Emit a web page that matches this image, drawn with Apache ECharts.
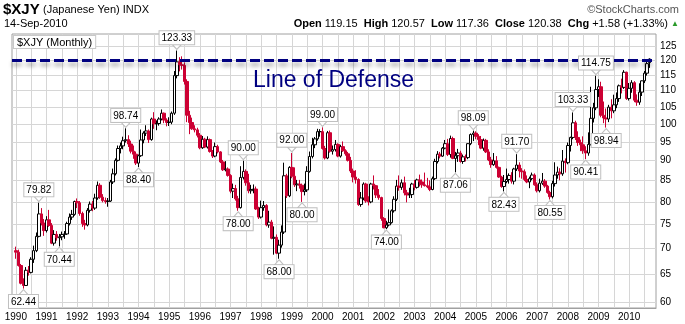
<!DOCTYPE html>
<html><head><meta charset="utf-8">
<script src="https://cdn.jsdelivr.net/npm/echarts@6/dist/echarts.min.js"></script>
<style>html,body{margin:0;padding:0;background:#fff}#c{width:685px;height:324px}</style>
</head><body><div id="c"></div><script>
// Monthly $XJY candles, Jan 1990 .. Sep 2010
const firstYear = 1990, lastYear = 2010, lastMonth = 9;
const opens = [
69.6,69.3,66.7,63.4,63.0,65.8,65.4,67.9,69.6,72.5,77.3,75.3,
73.7,76.0,74.8,71.1,72.9,72.2,72.4,72.9,73.0,75.2,76.6,77.2,
80.1,79.8,77.4,75.2,74.9,78.1,79.5,78.6,80.9,83.9,81.1,80.3,
80.1,80.2,84.7,86.7,90.1,93.2,93.9,95.3,95.6,94.4,92.5,91.7,
89.4,91.3,95.5,97.4,98.0,95.6,101.4,100.0,100.1,101.4,103.1,101.1,
100.4,100.5,103.1,114.8,119.4,118.4,118.2,112.9,102.5,100.4,98.6,98.3,
96.8,93.4,95.7,93.6,95.6,92.4,91.2,93.7,92.3,89.7,87.7,87.9,
86.3,82.5,83.1,80.7,78.7,85.8,87.3,84.5,82.6,82.9,83.0,78.4,
76.6,78.7,79.2,74.9,75.5,72.1,72.3,69.1,70.7,73.4,86.2,81.4,
88.3,86.1,84.0,84.2,83.9,82.4,82.8,87.3,91.1,94.2,95.8,97.8,
97.8,93.2,90.7,97.5,92.5,92.9,94.3,91.2,93.7,92.6,91.8,90.1,
87.4,85.9,85.3,79.4,80.9,84.2,80.2,80.0,84.2,83.8,81.6,81.0,
76.3,74.3,74.9,75.4,78.0,80.6,83.7,83.4,84.5,82.1,81.6,81.7,
84.2,83.4,85.2,84.7,84.0,83.8,83.5,82.9,85.5,89.8,91.7,91.2,
93.3,94.5,91.6,95.9,90.6,91.3,92.0,89.8,91.0,90.8,94.5,97.0,
97.4,96.5,95.6,93.3,95.4,92.3,90.2,89.0,90.0,88.3,85.9,83.6,
84.8,85.3,86.3,84.9,87.9,88.9,87.4,87.2,85.3,84.7,85.5,86.4,
84.0,82.6,84.4,84.9,83.7,82.2,81.2,84.3,86.4,87.1,86.7,89.9,
89.5,94.0,96.2,100.3,96.2,94.8,94.2,92.6,92.0,94.3,101.6,104.7,
110.3,111.2,102.5,101.7,101.4,104.9,103.8,105.6,107.5,111.5,111.0,115.9,
107.5,110.7,112.5,107.0,106.4,109.5,113.1,115.6,119.15];
const highs = [
70.4,69.8,67.0,64.3,66.4,66.6,68.3,70.6,73.3,79.82,78.6,76.2,
76.8,78.2,75.3,73.8,73.6,73.0,73.5,73.6,75.6,77.4,78.2,80.3,
80.8,80.2,77.8,76.0,78.6,80.1,80.2,81.9,84.8,84.4,81.8,81.0,
80.9,85.2,88.0,90.6,94.0,94.8,96.4,98.74,96.8,95.3,94.0,92.4,
91.6,98.4,97.9,99.6,98.4,101.8,103.4,101.0,101.9,104.2,103.3,101.6,
101.9,103.6,116.3,123.33,121.0,121.3,119.2,113.6,103.8,101.8,99.6,98.9,
97.4,96.6,96.1,96.5,95.9,92.8,94.8,94.2,92.5,90.2,89.9,88.3,
86.6,84.3,84.0,81.4,88.6,90.0,87.8,86.7,84.0,84.1,83.6,78.9,
80.3,80.2,79.5,78.0,76.0,74.6,72.9,71.8,74.8,89.5,86.7,88.6,
92.0,88.3,85.2,85.2,84.3,84.3,88.6,92.4,96.1,96.3,98.6,98.5,
99.0,93.9,98.0,98.1,94.0,95.5,94.6,94.2,95.1,93.0,92.3,91.0,
88.0,87.6,85.6,82.3,84.6,84.5,81.3,84.5,86.3,84.0,83.0,81.2,
76.6,75.8,78.3,78.3,81.3,85.2,86.3,85.3,86.0,82.8,83.3,84.5,
85.2,85.5,86.5,85.3,87.0,85.7,85.1,86.0,90.5,92.5,92.3,93.6,
95.5,95.8,96.7,96.4,92.3,93.1,92.6,91.6,91.6,94.6,97.3,98.09,
97.9,97.1,96.6,95.9,95.8,93.0,91.0,92.0,91.2,88.5,86.2,86.4,
88.0,86.8,87.1,88.2,91.70,89.6,88.1,87.8,86.3,86.0,87.0,86.8,
84.6,85.5,86.9,85.4,84.0,82.6,85.0,89.6,88.5,88.1,92.8,90.6,
94.8,96.4,103.33,100.9,97.9,95.6,96.5,93.8,97.6,111.2,106.2,114.75,
113.6,112.8,106.6,104.5,105.6,107.3,108.7,109.4,111.9,113.8,116.6,116.1,
112.4,113.3,113.0,108.8,112.3,113.2,116.3,119.5,120.57];
const lows = [
68.0,66.5,63.2,62.44,62.9,64.8,65.2,67.2,69.3,72.3,74.8,72.6,
73.3,74.5,70.9,70.6,71.6,70.44,71.7,72.0,72.8,74.8,76.0,76.9,
78.6,76.9,74.5,73.9,74.6,77.6,77.9,78.2,80.5,80.7,79.9,79.6,
78.9,80.0,84.2,86.3,89.8,91.9,93.0,94.8,93.6,91.9,90.5,88.9,
88.40,91.0,94.6,96.6,94.7,95.3,98.6,98.2,99.5,101.0,100.2,99.3,
99.4,99.9,102.6,113.9,116.2,116.8,111.9,100.5,97.1,98.3,97.6,96.2,
93.0,93.1,93.3,93.2,92.1,90.7,90.9,91.9,89.4,87.4,87.3,86.0,
82.0,80.9,80.3,78.0,78.5,85.3,83.8,82.0,81.9,82.0,78.2,76.2,
76.3,78.0,74.6,74.3,71.9,68.8,68.9,68.0,70.2,73.0,80.9,81.1,
85.6,83.5,82.5,83.1,80.0,81.5,82.3,87.0,90.6,93.3,95.3,96.4,
92.9,90.3,90.4,92.1,91.6,92.4,90.9,90.8,92.3,91.3,89.8,86.9,
84.6,84.3,79.1,78.9,80.4,79.8,79.2,79.7,82.9,80.9,80.5,75.8,
74.2,74.0,74.6,75.2,77.6,80.2,82.6,82.8,81.5,79.9,80.9,80.9,
82.7,83.1,83.6,83.3,83.6,83.2,82.5,82.7,85.2,89.3,90.6,91.0,
93.0,91.2,90.8,90.4,87.06,89.7,89.5,89.2,89.8,90.4,94.1,95.2,
95.7,94.1,93.0,92.6,92.0,89.9,88.2,88.7,88.0,85.7,83.3,82.43,
84.4,84.3,84.3,84.1,87.4,85.8,85.5,84.9,84.4,83.2,85.1,83.8,
82.2,82.2,84.0,83.3,81.9,80.55,80.8,83.6,85.5,85.1,86.2,87.0,
89.1,92.4,95.7,95.5,93.9,92.5,91.8,90.41,91.3,94.0,100.4,104.0,
108.0,101.9,100.2,98.94,100.5,101.6,103.1,104.6,106.5,109.1,110.5,107.1,
106.9,109.3,106.4,105.3,105.6,108.3,112.4,114.8,117.36];
const closes = [
69.3,66.7,63.4,63.0,65.8,65.4,67.9,69.6,72.5,77.3,75.3,73.7,
76.0,74.8,71.1,72.9,72.2,72.4,72.9,73.0,75.2,76.6,77.2,80.1,
79.8,77.4,75.2,74.9,78.1,79.5,78.6,80.9,83.9,81.1,80.3,80.1,
80.2,84.7,86.7,90.1,93.2,93.9,95.3,95.6,94.4,92.5,91.7,89.4,
91.3,95.5,97.4,98.0,95.6,101.4,100.0,100.1,101.4,103.1,101.1,100.4,
100.5,103.1,114.8,119.4,118.4,118.2,112.9,102.5,100.4,98.6,98.3,96.8,
93.4,95.7,93.6,95.6,92.4,91.2,93.7,92.3,89.7,87.7,87.9,86.3,
82.5,83.1,80.7,78.7,85.8,87.3,84.5,82.6,82.9,83.0,78.4,76.6,
78.7,79.2,74.9,75.5,72.1,72.3,69.1,70.7,73.4,86.2,81.4,88.3,
86.1,84.0,84.2,83.9,82.4,82.8,87.3,91.1,94.2,95.8,97.8,97.8,
93.2,90.7,97.5,92.5,92.9,94.3,91.2,93.7,92.6,91.8,90.1,87.4,
85.9,85.3,79.4,80.9,84.2,80.2,80.0,84.2,83.8,81.6,81.0,76.3,
74.3,74.9,75.4,78.0,80.6,83.7,83.4,84.5,82.1,81.6,81.7,84.2,
83.4,85.2,84.7,84.0,83.8,83.5,82.9,85.5,89.8,91.7,91.2,93.3,
94.5,91.6,95.9,90.6,91.3,92.0,89.8,91.0,90.8,94.5,97.0,97.4,
96.5,95.6,93.3,95.4,92.3,90.2,89.0,90.0,88.3,85.9,83.6,84.8,
85.3,86.3,84.9,87.9,88.9,87.4,87.2,85.3,84.7,85.5,86.4,84.0,
82.6,84.4,84.9,83.7,82.2,81.2,84.3,86.4,87.1,86.7,89.9,89.5,
94.0,96.2,100.3,96.2,94.8,94.2,92.6,92.0,94.3,101.6,104.7,110.3,
111.2,102.5,101.7,101.4,104.9,103.8,105.6,107.5,111.5,111.0,115.9,107.5,
110.7,112.5,107.0,106.4,109.5,113.1,115.6,118.8,120.38];

// annotated extremes: candle index (0 = Jan 1990) and whether it marks a high or a low
const annIndex = [3, 9, 17, 43, 48, 63, 87, 89, 103, 108, 112, 120, 145, 172, 179, 191, 196, 209, 218, 223, 227, 231];
const annKind  = ['low','high','low','high','low','high','low','high','low','high','low','high','low','low','high','low','high','low','high','low','high','low'];

const yTicks = [60, 65, 70, 75, 80, 85, 90, 95, 100, 105, 110, 115, 120, 125];
const defenseLevel = 120;
const defenseText = 'Line of Defense';
const symbolName = '$XJY', symbolDesc = '(Japanese Yen) INDX', quoteDate = '14-Sep-2010';

const RED = '#cc0033';
const FONT = '"Liberation Sans", Arial, sans-serif';

// categories: one pad month before, the months, two pad months after
const cats = ['pad0'];
for (let y = firstYear; y <= lastYear; y++) {
  for (let m = 1; m <= 12; m++) {
    if (y === lastYear && m > lastMonth) break;
    cats.push(y + '-' + String(m).padStart(2, '0'));
  }
}
cats.push('pad1', 'pad2');

const candleData = ['-'];
opens.forEach((o, i) => {
  const c = closes[i];
  const prev = i > 0 ? closes[i - 1] : o;
  const col = c >= prev ? '#000000' : RED;
  const hollow = c >= o;
  const fill = hollow ? '#ffffff' : col;
  candleData.push({
    value: [o, c, lows[i], highs[i]],
    itemStyle: { color: fill, color0: fill, borderColor: col, borderColor0: col, borderColorDoji: col }
  });
});
candleData.push('-', '-');

const downTri = 'path://M0,0L10,0L5,6Z';
const upTri = 'path://M5,0L10,6L0,6Z';
const markPts = annIndex.map((idx, k) => {
  const hi = annKind[k] === 'high';
  const v = hi ? highs[idx] : lows[idx];
  return {
    coord: [cats[idx + 1], v],
    value: v,
    symbol: hi ? downTri : upTri,
    symbolSize: [9, 5],
    symbolOffset: [0, hi ? -3.5 : 3.5],
    label: { position: hi ? 'top' : 'bottom', distance: 0 }
  };
});

const n = closes.length;
const chg = closes[n - 1] - closes[n - 2];
const pct = chg / closes[n - 2] * 100;
const statText = '{b|Open} ' + opens[n-1].toFixed(2) + '  {b|High} ' + highs[n-1].toFixed(2) +
  '  {b|Low} ' + lows[n-1].toFixed(2) + '  {b|Close} ' + closes[n-1].toFixed(2) +
  '  {b|Chg} ' + (chg >= 0 ? '+' : '') + chg.toFixed(2) + ' (' + (pct >= 0 ? '+' : '') + pct.toFixed(2) + '%) {g|▲}';

const chart = echarts.init(document.getElementById('c'), null, { renderer: 'canvas' });
chart.setOption({
  animation: false,
  backgroundColor: '#fff',
  grid: { left: 12, right: 29, top: 34, bottom: 16, show: true, borderColor: '#a0a0a0', borderWidth: 1, backgroundColor: '#fff' },
  xAxis: {
    type: 'category', data: cats, boundaryGap: true,
    axisLine: { show: true, lineStyle: { color: '#a0a0a0' } },
    axisTick: { show: false },
    axisLabel: {
      interval: (i, v) => /-01$/.test(v),
      formatter: v => v.slice(0, 4),
      color: '#000', fontSize: 10, fontFamily: FONT, margin: 4
    },
    splitLine: { show: true, alignWithLabel: true, interval: (i, v) => /-(01|07)$/.test(v), lineStyle: { color: '#d6d6d6', width: 1 } }
  },
  yAxis: {
    type: 'log', logBase: 10, min: 59.07, max: 129.3, position: 'right',
    axisLabel: { show: false }, axisTick: { show: false }, axisLine: { show: false }, splitLine: { show: false }
  },
  series: [
    {
      type: 'candlestick', z: 3,
      data: candleData,
      barWidth: 3,
      itemStyle: { borderWidth: 1 },
      markLine: {
        silent: true, z: 1, symbol: ['none', 'none'], animation: false,
        lineStyle: { color: '#d6d6d6', width: 1, type: 'solid' },
        label: { position: 'end', distance: 4, color: '#000', fontSize: 10, fontFamily: FONT },
        data: yTicks.map(v => ({ yAxis: v, label: { formatter: String(v) } }))
      },
      markPoint: {
        silent: true, z: 6, animation: false,
        itemStyle: { color: '#fff', borderColor: '#c0c0c0', borderWidth: 1 },
        label: {
          show: true, formatter: p => p.value.toFixed(2), color: '#000', fontSize: 10, fontFamily: FONT,
          backgroundColor: '#fff', borderColor: '#c0c0c0', borderWidth: 1, padding: [2, 2, 1, 2]
        },
        data: markPts
      }
    },
    {
      type: 'line', data: [], z: 5,
      markLine: {
        silent: true, z: 5, symbol: ['none', 'none'], animation: false, label: { show: false },
        lineStyle: { color: '#000080', width: 3, type: [10, 4], shadowColor: 'rgba(0,0,0,0.35)', shadowBlur: 4, shadowOffsetY: 4 },
        data: [{ yAxis: defenseLevel }]
      }
    }
  ],
  graphic: [
    { type: 'text', left: 3, top: 2, style: { text: '{t|' + symbolName + '} {d|' + symbolDesc + '}', rich: {
      t: { font: 'bold 15px ' + FONT, fill: '#000' }, d: { font: '11px ' + FONT, fill: '#000' } } } },
    { type: 'text', left: 4, top: 18, style: { text: quoteDate, font: '11px ' + FONT, fill: '#000' } },
    { type: 'text', right: 6, top: 4, style: { text: '©StockCharts.com', font: '11px ' + FONT, fill: '#555' } },
    { type: 'text', right: 6, top: 18, style: { text: statText, font: '11px ' + FONT, fill: '#000', rich: {
      b: { font: 'bold 11px ' + FONT, fill: '#000' }, g: { font: '8px ' + FONT, fill: '#2a9a2a' } } } },
    { type: 'text', left: 13, top: 35, z: 20, style: { text: symbolName + ' (Monthly)', font: '11px ' + FONT, fill: '#000',
      backgroundColor: '#fff', borderColor: '#c8c8c8', borderWidth: 1, padding: [1, 3, 0, 3] } },
    { type: 'text', left: 253, top: 69, z: 20, style: { text: defenseText, font: '23px ' + FONT, fill: '#000080' } }
  ]
});
</script></body></html>
